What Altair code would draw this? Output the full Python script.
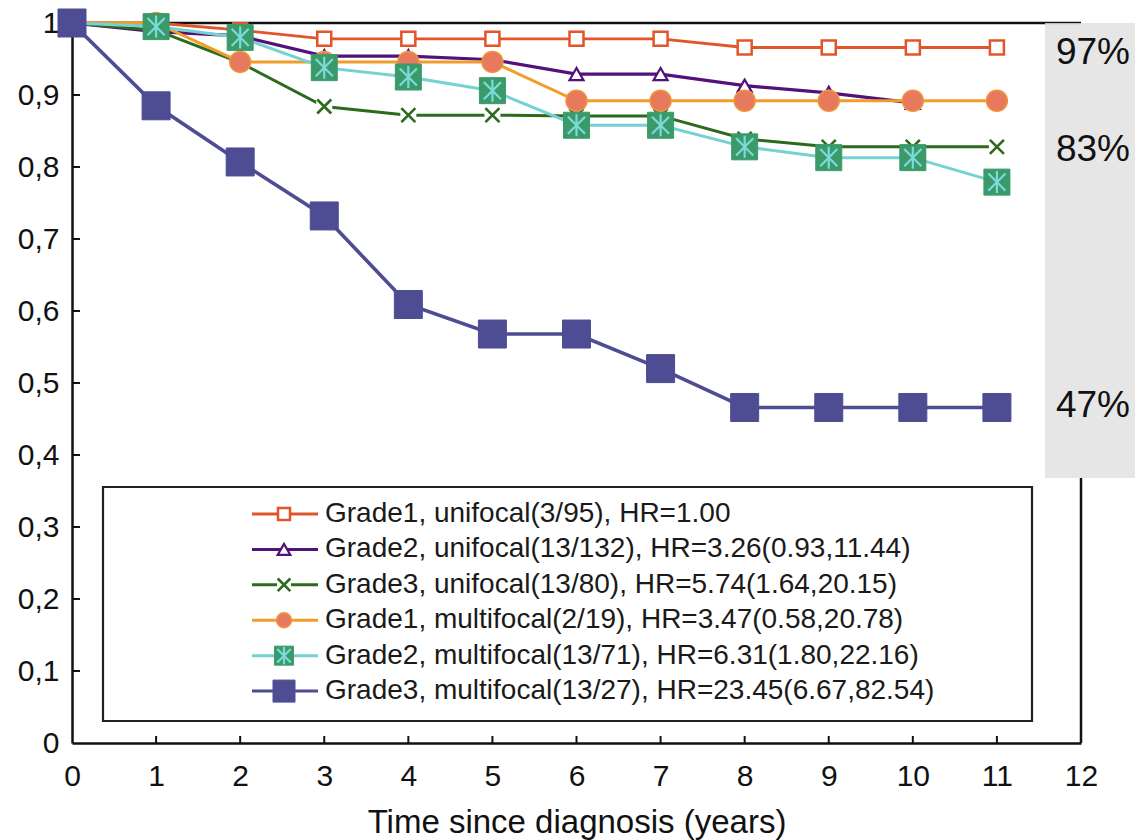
import altair as alt
import pandas as pd

# ---------------- data ----------------
years = list(range(12))
series_names = [
    "Grade1, unifocal", "Grade2, unifocal", "Grade3, unifocal",
    "Grade1, multifocal", "Grade2, multifocal", "Grade3, multifocal",
]
legend_labels = [
    "Grade1, unifocal(3/95), HR=1.00",
    "Grade2, unifocal(13/132), HR=3.26(0.93,11.44)",
    "Grade3, unifocal(13/80), HR=5.74(1.64,20.15)",
    "Grade1, multifocal(2/19), HR=3.47(0.58,20.78)",
    "Grade2, multifocal(13/71), HR=6.31(1.80,22.16)",
    "Grade3, multifocal(13/27), HR=23.45(6.67,82.54)",
]
g1_uni = [1.0, 1.0, 0.99, 0.978, 0.978, 0.978, 0.978, 0.978, 0.966, 0.966, 0.966, 0.966]
g2_uni = [1.0, 0.988, 0.982, 0.954, 0.954, 0.949, 0.929, 0.929, 0.913, 0.903, 0.889]
g3_uni = [1.0, 0.99, 0.945, 0.884, 0.872, 0.872, 0.871, 0.871, 0.839, 0.828, 0.828, 0.828]
g1_multi = [1.0, 1.0, 0.946, 0.946, 0.946, 0.946, 0.892, 0.892, 0.892, 0.892, 0.892, 0.892]
g2_multi = [1.0, 0.995, 0.98, 0.938, 0.925, 0.906, 0.858, 0.858, 0.828, 0.813, 0.813, 0.779]
g3_multi = [1.0, 0.885, 0.807, 0.732, 0.609, 0.568, 0.568, 0.52, 0.466, 0.466, 0.466, 0.466]
all_values = [g1_uni, g2_uni, g3_uni, g1_multi, g2_multi, g3_multi]

pct_labels = ["97%", "83%", "47%"]
pct_y = [0.958, 0.824, 0.468]

x_ticks = list(range(13))
y_ticks = [round(i / 10, 1) for i in range(11)]

rows = []
for name, vals in zip(series_names, all_values):
    for yr, v in zip(years, vals):
        rows.append({"series": name, "year": yr, "surv": v})
df = pd.DataFrame(rows)

leg_df = pd.DataFrame({"series": series_names, "label": legend_labels,
                       "row": list(range(len(series_names)))})

# ---------------- layout / style ----------------
W, H = 1009, 720
FONT = "Liberation Sans"
xs = alt.Scale(domain=[0, 12], nice=False, zero=False)
ys = alt.Scale(domain=[0, 1], nice=False, zero=False)
xaxis = alt.Axis(values=x_ticks, ticks=False, grid=False, domain=True,
                 domainColor="#111111", domainWidth=2.5, labelFontSize=30,
                 labelFont=FONT, labelColor="#111111", labelPadding=18,
                 labelFlush=False, title="Time since diagnosis (years)",
                 titleFont=FONT, titleFontSize=33, titleFontWeight="normal",
                 titleColor="#111111", titlePadding=15)
yaxis = alt.Axis(values=y_ticks, ticks=False, grid=False, domain=True,
                 domainColor="#111111", domainWidth=2.5, labelFontSize=30,
                 labelFont=FONT, labelColor="#111111", labelPadding=13,
                 labelFlush=False, labelBaseline="middle",
                 labelExpr="replace(format(datum.value, '.1~f'), '.', ',')",
                 title=None)


def X(field):
    return alt.X(field, type="quantitative", scale=xs, axis=xaxis)


def Y(field):
    return alt.Y(field, type="quantitative", scale=ys, axis=yaxis)


XPATH = "M-1,-1L1,1M-1,1L1,-1"
ASTER = "M0,-1L0,1M-0.78,-0.78L0.78,0.78M-0.78,0.78L0.78,-0.78"

styles = {
    "Grade1, unifocal": dict(color="#e2552a", width=2.8, marks=[
        dict(shape="square", fill="#ffffff", stroke="#e2552a", sw=2.5, size=196, lsize=144)]),
    "Grade2, unifocal": dict(color="#52127a", width=3.2, marks=[
        dict(shape="triangle-up", fill="#ffffff", stroke="#52127a", sw=2.2, size=196, lsize=160)]),
    "Grade3, unifocal": dict(color="#2d6a1c", width=3.0, marks=[
        dict(shape="square", fill="#ffffff", stroke="#ffffff", sw=0, size=256, lsize=196),
        dict(shape=XPATH, fill="none", stroke="#2d6a1c", sw=2.6, size=196, lsize=160)]),
    "Grade1, multifocal": dict(color="#f29c2a", width=3.0, marks=[
        dict(shape="circle", fill="#e6795e", stroke="#f0953a", sw=1.5, size=441, lsize=225)]),
    "Grade2, multifocal": dict(color="#74d2d2", width=3.0, marks=[
        dict(shape="square", fill="#3c9a6a", stroke="#3c9a6a", sw=1, size=676, lsize=361),
        dict(shape=ASTER, fill="none", stroke="#7bdada", sw=2.2, size=484, lsize=300)]),
    "Grade3, multifocal": dict(color="#4e4d93", width=3.6, marks=[
        dict(shape="square", fill="#4e4d93", stroke="#4e4d93", sw=1, size=784, lsize=484)]),
}

# legend geometry (pixels inside the plot area)
LEG_Y0, LEG_DY = 0.3181, 0.0492
leg_base = alt.Chart(leg_df).transform_calculate(
    ly=f"{LEG_Y0} - datum.row * {LEG_DY}")

layers = []

# frame: top line, right line, inward ticks
layers.append(alt.Chart(pd.DataFrame({"t": x_ticks[1:12]})).mark_rule(
    color="#111111", strokeWidth=2).encode(x=X("t"), y=alt.value(H), y2=alt.value(H - 7)))
layers.append(alt.Chart(pd.DataFrame({"v": y_ticks[1:10]})).mark_rule(
    color="#111111", strokeWidth=2).encode(y=Y("v"), x=alt.value(0), x2=alt.value(8)))
layers.append(alt.Chart(pd.DataFrame({"a": [0]})).mark_rule(
    color="#111111", strokeWidth=2.5).encode(x=alt.value(0), x2=alt.value(W), y=alt.value(0)))
layers.append(alt.Chart(pd.DataFrame({"a": [0]})).mark_rule(
    color="#111111", strokeWidth=2.5).encode(x=alt.value(W), y=alt.value(455), y2=alt.value(H)))

# series
for name in series_names:
    st = styles[name]
    base = alt.Chart(df).transform_filter(alt.datum.series == name)
    layers.append(base.mark_line(color=st["color"], strokeWidth=st["width"]).encode(
        x=X("year"), y=Y("surv")))
    for m in st["marks"]:
        layers.append(base.mark_point(shape=m["shape"], fill=m["fill"], stroke=m["stroke"],
                                      strokeWidth=m["sw"], size=m["size"], opacity=1,
                                      filled=(m["fill"] != "none")).encode(
            x=X("year"), y=Y("surv")))

# grey box with percentages
layers.append(alt.Chart(pd.DataFrame({"a": [0]})).mark_rect(
    color="#e1e1e1", opacity=0.82).encode(x=alt.value(973), x2=alt.value(1063),
                                          y=alt.value(0), y2=alt.value(455)))
layers.append(alt.Chart(pd.DataFrame({"label": pct_labels, "v": pct_y})).mark_text(
    font=FONT, fontSize=37, color="#111111", align="center", baseline="middle").encode(
    x=alt.value(1021), y=Y("v"), text="label:N"))

# legend box
layers.append(alt.Chart(pd.DataFrame({"a": [0]})).mark_rect(
    fill="#ffffff", stroke="#222222", strokeWidth=2.2).encode(
    x=alt.value(31), x2=alt.value(960), y=alt.value(464), y2=alt.value(698)))

for name in series_names:
    st = styles[name]
    lb = leg_base.transform_filter(alt.datum.series == name)
    layers.append(lb.mark_rule(color=st["color"], strokeWidth=3).encode(
        x=alt.value(180), x2=alt.value(246), y=Y("ly")))
    for m in st["marks"]:
        layers.append(lb.mark_point(shape=m["shape"], fill=m["fill"], stroke=m["stroke"],
                                    strokeWidth=m["sw"], size=m["lsize"], opacity=1,
                                    filled=(m["fill"] != "none")).encode(
            x=alt.value(212), y=Y("ly")))

layers.append(leg_base.mark_text(font=FONT, fontSize=28, color="#1a1a1a", align="left",
                                 baseline="middle").encode(
    x=alt.value(253), y=Y("ly"), text="label:N"))

chart = alt.layer(*layers).properties(
    width=W, height=H,
    autosize=alt.AutoSizeParams(type="none"),
    padding={"left": 72, "top": 23, "right": 54, "bottom": 97},
    background="#ffffff",
).configure_view(stroke=None)

chart.save("out.html", embed_options={"renderer": "svg", "actions": False})
